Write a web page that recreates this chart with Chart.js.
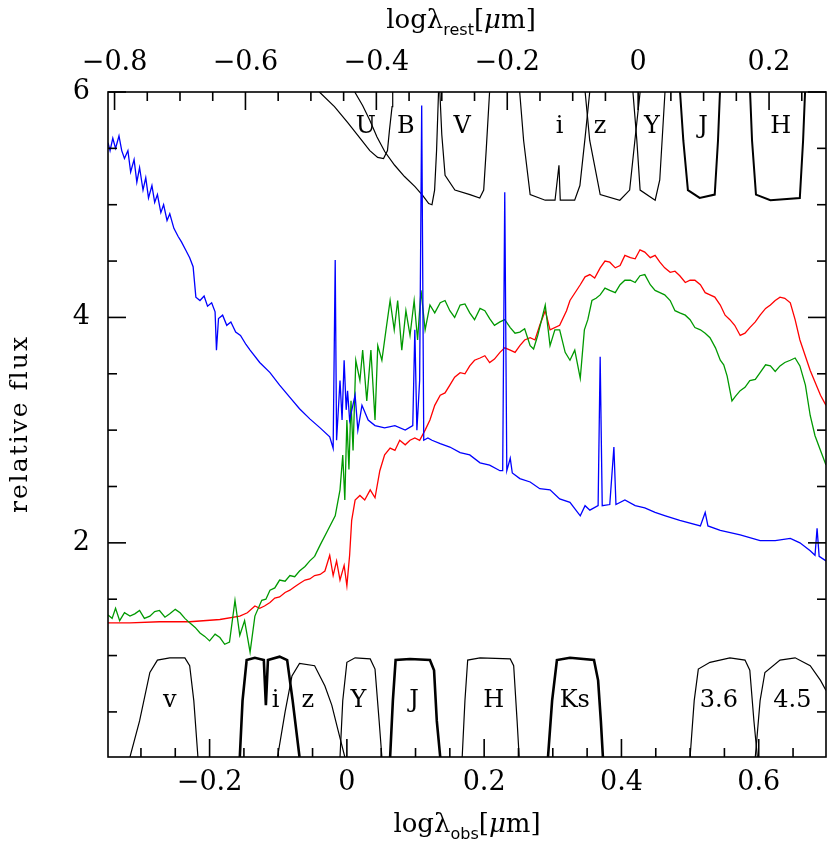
<!DOCTYPE html>
<html><head><meta charset="utf-8">
<script src="https://cdn.jsdelivr.net/npm/chart.js@4.4.1/dist/chart.umd.min.js"></script>
<style>html,body{margin:0;padding:0;background:#fff;overflow:hidden}canvas{display:block}</style>
</head><body>
<canvas id="c" width="830" height="855"></canvas>
<script>
// ---------- axis ranges / tick labels ----------
const obsRange = [-0.348, 0.698];
const restRange = [-0.810, 0.287];
const fluxRange = [0.1, 6];
const obsTickLabels = [-0.2, 0, 0.2, 0.4, 0.6];
const restTickLabels = [-0.8, -0.6, -0.4, -0.2, 0, 0.2];
const fluxTickLabels = [2, 4, 6];

// ---------- spectra (x = log lambda_obs, y = relative flux) ----------
const blueSpec = [[-0.348,5.55],[-0.345,5.48],[-0.341,5.59],[-0.337,5.50],[-0.332,5.61],[-0.328,5.48],[-0.324,5.41],[-0.319,5.48],[-0.315,5.29],[-0.310,5.40],[-0.306,5.20],[-0.302,5.33],[-0.297,5.13],[-0.293,5.24],[-0.289,5.06],[-0.284,5.17],[-0.280,5.02],[-0.276,5.09],[-0.271,4.93],[-0.267,5.00],[-0.262,4.86],[-0.258,4.92],[-0.252,4.79],[-0.246,4.72],[-0.241,4.67],[-0.235,4.60],[-0.229,4.53],[-0.224,4.45],[-0.220,4.18],[-0.214,4.15],[-0.208,4.19],[-0.203,4.10],[-0.197,4.13],[-0.192,4.05],[-0.190,3.71],[-0.187,3.99],[-0.181,4.02],[-0.175,3.93],[-0.169,3.96],[-0.162,3.87],[-0.155,3.84],[-0.147,3.76],[-0.141,3.71],[-0.127,3.60],[-0.112,3.51],[-0.098,3.40],[-0.083,3.29],[-0.069,3.19],[-0.054,3.10],[-0.039,3.02],[-0.025,2.94],[-0.020,2.84],[-0.017,4.51],[-0.015,2.91],[-0.010,3.44],[-0.007,3.09],[-0.004,3.62],[-0.001,3.18],[0.001,3.35],[0.004,3.09],[0.012,3.31],[0.016,3.00],[0.022,3.22],[0.031,3.09],[0.041,3.04],[0.055,3.02],[0.070,3.04],[0.085,3.00],[0.096,3.04],[0.099,3.89],[0.102,3.00],[0.106,3.44],[0.109,5.88],[0.112,2.91],[0.118,2.93],[0.124,2.91],[0.136,2.88],[0.150,2.85],[0.165,2.80],[0.179,2.78],[0.194,2.71],[0.208,2.69],[0.223,2.64],[0.227,2.64],[0.230,5.11],[0.233,2.64],[0.238,2.75],[0.241,2.62],[0.252,2.57],[0.267,2.54],[0.281,2.48],[0.296,2.47],[0.310,2.39],[0.325,2.36],[0.340,2.24],[0.347,2.33],[0.354,2.29],[0.366,2.33],[0.369,3.65],[0.372,2.33],[0.383,2.34],[0.389,2.85],[0.392,2.34],[0.405,2.38],[0.420,2.33],[0.434,2.31],[0.449,2.27],[0.464,2.24],[0.485,2.20],[0.515,2.15],[0.522,2.27],[0.526,2.15],[0.544,2.11],[0.573,2.07],[0.602,2.02],[0.624,2.02],[0.646,2.04],[0.660,2.00],[0.675,1.93],[0.682,1.89],[0.685,2.13],[0.688,1.88],[0.698,1.84]];

const greenSpec = [[-0.348,1.36],[-0.342,1.33],[-0.337,1.42],[-0.331,1.31],[-0.324,1.38],[-0.316,1.35],[-0.309,1.37],[-0.302,1.40],[-0.295,1.33],[-0.287,1.35],[-0.280,1.39],[-0.273,1.40],[-0.265,1.34],[-0.258,1.37],[-0.250,1.41],[-0.243,1.38],[-0.236,1.33],[-0.229,1.29],[-0.221,1.25],[-0.214,1.20],[-0.207,1.17],[-0.200,1.13],[-0.192,1.19],[-0.185,1.16],[-0.178,1.10],[-0.171,1.12],[-0.163,1.49],[-0.156,1.18],[-0.149,1.31],[-0.141,1.03],[-0.134,1.35],[-0.124,1.49],[-0.118,1.50],[-0.112,1.58],[-0.105,1.60],[-0.098,1.67],[-0.090,1.66],[-0.083,1.71],[-0.076,1.70],[-0.069,1.75],[-0.061,1.79],[-0.054,1.84],[-0.047,1.88],[-0.039,1.98],[-0.028,2.11],[-0.017,2.24],[-0.010,2.47],[-0.006,2.78],[-0.003,2.38],[0.000,3.09],[0.003,2.65],[0.006,3.26],[0.009,2.82],[0.013,3.62],[0.019,3.44],[0.023,3.71],[0.029,3.26],[0.035,3.71],[0.041,3.09],[0.045,3.75],[0.051,3.62],[0.057,3.89],[0.063,4.15],[0.069,3.89],[0.074,4.15],[0.080,3.71],[0.086,4.06],[0.092,3.84],[0.098,4.15],[0.103,3.80],[0.108,4.24],[0.114,3.89],[0.121,4.11],[0.128,4.04],[0.136,4.13],[0.143,4.15],[0.150,4.06],[0.157,4.00],[0.165,4.11],[0.172,4.12],[0.179,4.04],[0.186,3.98],[0.194,4.08],[0.201,4.06],[0.208,3.99],[0.215,3.93],[0.223,3.96],[0.230,3.98],[0.238,3.91],[0.245,3.86],[0.252,3.87],[0.259,3.90],[0.267,3.75],[0.272,3.72],[0.278,3.84],[0.289,4.11],[0.296,3.75],[0.303,3.89],[0.310,3.89],[0.318,3.69],[0.325,3.62],[0.332,3.71],[0.340,3.46],[0.346,3.89],[0.351,3.98],[0.357,4.15],[0.363,4.17],[0.369,4.20],[0.376,4.26],[0.383,4.24],[0.391,4.22],[0.398,4.29],[0.405,4.33],[0.413,4.33],[0.420,4.31],[0.427,4.37],[0.434,4.38],[0.442,4.29],[0.449,4.24],[0.456,4.22],[0.463,4.20],[0.471,4.15],[0.478,4.06],[0.485,4.04],[0.493,4.02],[0.500,3.98],[0.507,3.91],[0.515,3.89],[0.522,3.86],[0.529,3.82],[0.537,3.73],[0.544,3.62],[0.549,3.58],[0.554,3.48],[0.561,3.26],[0.566,3.30],[0.573,3.35],[0.580,3.38],[0.587,3.44],[0.595,3.45],[0.602,3.51],[0.610,3.58],[0.617,3.57],[0.624,3.52],[0.631,3.57],[0.638,3.60],[0.646,3.62],[0.653,3.64],[0.660,3.57],[0.668,3.40],[0.675,3.13],[0.682,2.95],[0.690,2.82],[0.698,2.69]];

const redSpec = [[-0.348,1.29],[-0.316,1.29],[-0.273,1.30],[-0.229,1.30],[-0.185,1.32],[-0.156,1.35],[-0.145,1.38],[-0.134,1.44],[-0.127,1.42],[-0.120,1.44],[-0.112,1.47],[-0.105,1.51],[-0.098,1.52],[-0.090,1.56],[-0.083,1.58],[-0.076,1.61],[-0.069,1.64],[-0.061,1.67],[-0.054,1.68],[-0.047,1.71],[-0.039,1.72],[-0.032,1.75],[-0.025,1.89],[-0.020,1.71],[-0.015,1.84],[-0.010,1.67],[-0.004,1.80],[0.000,1.62],[0.004,1.89],[0.007,2.20],[0.012,2.38],[0.019,2.42],[0.026,2.38],[0.034,2.47],[0.041,2.40],[0.048,2.64],[0.055,2.78],[0.063,2.84],[0.070,2.82],[0.077,2.91],[0.085,2.87],[0.092,2.91],[0.099,2.93],[0.106,2.91],[0.114,3.00],[0.121,3.09],[0.128,3.22],[0.136,3.31],[0.143,3.33],[0.150,3.40],[0.157,3.47],[0.165,3.51],[0.172,3.50],[0.179,3.57],[0.186,3.62],[0.194,3.64],[0.201,3.66],[0.208,3.60],[0.215,3.63],[0.223,3.69],[0.230,3.73],[0.238,3.71],[0.245,3.69],[0.252,3.75],[0.259,3.80],[0.267,3.82],[0.274,3.80],[0.281,3.93],[0.289,4.06],[0.296,3.89],[0.310,3.93],[0.320,4.06],[0.325,4.15],[0.340,4.29],[0.347,4.36],[0.354,4.38],[0.361,4.35],[0.369,4.44],[0.376,4.50],[0.383,4.49],[0.391,4.44],[0.398,4.46],[0.405,4.55],[0.413,4.53],[0.420,4.52],[0.427,4.60],[0.434,4.58],[0.442,4.53],[0.449,4.55],[0.456,4.49],[0.463,4.44],[0.471,4.40],[0.478,4.41],[0.485,4.37],[0.493,4.31],[0.500,4.33],[0.507,4.33],[0.515,4.29],[0.522,4.22],[0.529,4.20],[0.536,4.18],[0.544,4.11],[0.551,4.02],[0.558,3.98],[0.565,3.93],[0.573,3.84],[0.580,3.86],[0.587,3.91],[0.595,3.96],[0.602,4.02],[0.610,4.08],[0.617,4.11],[0.624,4.15],[0.631,4.18],[0.638,4.17],[0.646,4.13],[0.653,3.98],[0.660,3.80],[0.675,3.53],[0.690,3.31],[0.698,3.22]];

// ---------- observed-frame filter curves (bottom) ----------
const filtV = [[-0.316,0.10],[-0.302,0.42],[-0.287,0.85],[-0.276,0.96],[-0.258,0.98],[-0.236,0.98],[-0.229,0.91],[-0.223,0.60],[-0.217,0.10]];
const filtIobs = [[-0.156,0.10],[-0.152,0.60],[-0.146,0.96],[-0.134,0.98],[-0.121,0.96],[-0.118,0.56],[-0.115,0.96],[-0.098,0.99],[-0.087,0.96],[-0.079,0.60],[-0.069,0.10]];
const filtZobs = [[-0.101,0.10],[-0.090,0.50],[-0.080,0.82],[-0.069,0.93],[-0.047,0.91],[-0.032,0.73],[-0.022,0.56],[-0.013,0.34],[-0.003,0.10]];
const filtYobs = [[-0.010,0.10],[-0.006,0.60],[0.000,0.94],[0.012,0.98],[0.034,0.97],[0.041,0.88],[0.047,0.42],[0.051,0.10]];
const filtJobs = [[0.063,0.10],[0.067,0.60],[0.071,0.96],[0.092,0.97],[0.121,0.96],[0.127,0.87],[0.131,0.42],[0.136,0.10]];
const filtHobs = [[0.168,0.10],[0.172,0.60],[0.176,0.96],[0.194,0.98],[0.238,0.97],[0.243,0.91],[0.248,0.42],[0.251,0.10]];
const filtKs = [[0.293,0.10],[0.299,0.60],[0.306,0.96],[0.325,0.98],[0.360,0.96],[0.366,0.78],[0.370,0.42],[0.373,0.10]];
const filt36 = [[0.500,0.10],[0.506,0.60],[0.512,0.88],[0.529,0.94],[0.558,0.98],[0.580,0.96],[0.587,0.87],[0.593,0.42],[0.598,0.10]];
const filt45 = [[0.595,0.10],[0.602,0.60],[0.609,0.85],[0.631,0.96],[0.653,0.98],[0.675,0.91],[0.690,0.78],[0.698,0.69]];

// ---------- rest-frame filter curves (top, x = log lambda_rest) ----------
const filtU = [[-0.487,6.00],[-0.464,5.87],[-0.444,5.73],[-0.425,5.59],[-0.410,5.48],[-0.398,5.42],[-0.389,5.41],[-0.383,5.48],[-0.380,5.66],[-0.376,5.87],[-0.375,6.00]];
const filtB = [[-0.433,6.00],[-0.421,5.88],[-0.410,5.75],[-0.399,5.60],[-0.387,5.47],[-0.372,5.35],[-0.357,5.25],[-0.341,5.16],[-0.329,5.08],[-0.320,5.01],[-0.315,5.00],[-0.311,5.13],[-0.308,5.48],[-0.305,6.00]];
const filtVrest = [[-0.303,6.00],[-0.300,5.62],[-0.295,5.26],[-0.280,5.13],[-0.257,5.09],[-0.242,5.06],[-0.236,5.13],[-0.232,5.50],[-0.227,6.00]];
const filtIrest = [[-0.181,6.00],[-0.175,5.57],[-0.165,5.09],[-0.142,5.04],[-0.127,5.04],[-0.121,5.35],[-0.119,5.04],[-0.097,5.04],[-0.089,5.17],[-0.081,5.60],[-0.074,6.00]];
const filtZrest = [[-0.081,6.00],[-0.074,5.57],[-0.058,5.09],[-0.028,5.04],[-0.013,5.13],[-0.005,5.57],[0.003,6.00]];
const filtYrest = [[-0.008,6.00],[-0.002,5.57],[0.003,5.13],[0.026,5.04],[0.033,5.22],[0.041,6.00]];
const filtJrest = [[0.064,6.00],[0.069,5.57],[0.076,5.13],[0.094,5.06],[0.117,5.09],[0.122,5.57],[0.125,6.00]];
const filtHrest = [[0.171,6.00],[0.174,5.57],[0.180,5.09],[0.202,5.04],[0.247,5.06],[0.252,5.57],[0.255,6.00]];

// ---------- in-plot filter names ----------
const restNames = ['U','B','V','i','z','Y','J','H'];
const restNameX = [-0.416,-0.355,-0.269,-0.120,-0.058,0.021,0.099,0.218];
const restNameY = 5.69;
const obsNames = ['v','i','z','Y','J','H','Ks','3.6','4.5'];
const obsNameX = [-0.258,-0.104,-0.057,0.017,0.098,0.214,0.332,0.542,0.649];
const obsNameY = 0.60;

// ---------- rendering ----------
const SERIF = "'DejaVu Serif', serif";
const SANS = "'DejaVu Sans', sans-serif";
const pts = a => a.map(([x, y]) => ({x, y}));
const fmt = v => v === 0 ? '0' : (v < 0 ? '\u2212' : '') + Math.abs(v).toFixed(1);

function lineDS(arr, color, width, order, axis) {
  return { data: pts(arr), borderColor: color, borderWidth: width, pointRadius: 0,
           fill: false, tension: 0, order: order, xAxisID: axis || 'x', yAxisID: 'y' };
}

const datasets = [
  lineDS(blueSpec, '#0000ff', 1.3, 1),
  lineDS(greenSpec, '#009900', 1.3, 2),
  lineDS(redSpec, '#ff0000', 1.3, 3),
  lineDS(filtV, '#000', 1.2, 10), lineDS(filtIobs, '#000', 2.6, 10), lineDS(filtZobs, '#000', 1.2, 10),
  lineDS(filtYobs, '#000', 1.2, 10), lineDS(filtJobs, '#000', 2.6, 10), lineDS(filtHobs, '#000', 1.2, 10),
  lineDS(filtKs, '#000', 2.6, 10), lineDS(filt36, '#000', 1.2, 10), lineDS(filt45, '#000', 1.2, 10),
  lineDS(filtU, '#000', 1.2, 10, 'x2'), lineDS(filtB, '#000', 1.2, 10, 'x2'), lineDS(filtVrest, '#000', 1.2, 10, 'x2'),
  lineDS(filtIrest, '#000', 1.2, 10, 'x2'), lineDS(filtZrest, '#000', 1.2, 10, 'x2'), lineDS(filtYrest, '#000', 1.2, 10, 'x2'),
  lineDS(filtJrest, '#000', 2.0, 10, 'x2'), lineDS(filtHrest, '#000', 2.0, 10, 'x2')
];

const tickFont = { family: SERIF, size: 27 };
function axisCommon(vals, pad) {
  return {
    type: 'linear', grid: { display: false, drawTicks: false }, border: { display: false },
    ticks: { font: tickFont, color: '#000', padding: pad, autoSkip: false, maxRotation: 0, callback: v => fmt(v) },
    afterBuildTicks: s => { s.ticks = vals.map(v => ({ value: v })); }
  };
}

const framePlugin = {
  id: 'frame',
  afterDatasetsDraw(chart) {
    const { ctx, chartArea: a, scales } = chart;
    ctx.save();
    ctx.strokeStyle = '#000';
    ctx.lineWidth = 1.6;
    ctx.lineCap = 'butt';
    const seg = (x1, y1, x2, y2) => { ctx.beginPath(); ctx.moveTo(x1, y1); ctx.lineTo(x2, y2); ctx.stroke(); };
    const near = (v, step) => Math.abs(v / step - Math.round(v / step)) < 1e-6;
    for (let k = Math.ceil(obsRange[0] / 0.05); k * 0.05 <= obsRange[1] + 1e-9; k++) {
      const v = k * 0.05, p = scales.x.getPixelForValue(v), L = near(v, 0.2) ? 18 : 9;
      seg(p, a.bottom, p, a.bottom - L);
    }
    for (let k = Math.ceil(restRange[0] / 0.05); k * 0.05 <= restRange[1] + 1e-9; k++) {
      const v = k * 0.05, p = scales.x2.getPixelForValue(v), L = near(v, 0.2) ? 18 : 9;
      seg(p, a.top, p, a.top + L);
    }
    for (let k = 1; k * 0.5 <= fluxRange[1] + 1e-9; k++) {
      const v = k * 0.5; if (v < fluxRange[0]) continue;
      const p = scales.y.getPixelForValue(v), L = near(v, 2) ? 18 : 9;
      seg(a.left, p, a.left + L, p);
      seg(a.right, p, a.right - L, p);
    }
    ctx.strokeRect(a.left, a.top, a.right - a.left, a.bottom - a.top);
    ctx.restore();
  }
};

function drawTitle(ctx, cx, baseY, sub) {
  const parts = [
    { t: 'log\u03bb', f: '26px ' + SERIF, dy: 0 },
    { t: sub, f: '16px ' + SANS, dy: 7 },
    { t: '[', f: '26px ' + SERIF, dy: 0 },
    { t: '\u03bc', f: 'italic 26px ' + SERIF, dy: 0 },
    { t: 'm]', f: '26px ' + SERIF, dy: 0 }
  ];
  let w = 0;
  for (const p of parts) { ctx.font = p.f; p.w = ctx.measureText(p.t).width; w += p.w; }
  let x = cx - w / 2;
  ctx.textAlign = 'left'; ctx.textBaseline = 'alphabetic';
  for (const p of parts) { ctx.font = p.f; ctx.fillText(p.t, x, baseY + p.dy); x += p.w; }
}

const textPlugin = {
  id: 'texts',
  afterDraw(chart) {
    const { ctx, scales } = chart;
    ctx.save();
    ctx.fillStyle = '#000';
    ctx.font = '24px ' + SERIF;
    ctx.textAlign = 'center'; ctx.textBaseline = 'middle';
    restNames.forEach((n, i) => ctx.fillText(n, scales.x2.getPixelForValue(restNameX[i]), scales.y.getPixelForValue(restNameY)));
    obsNames.forEach((n, i) => ctx.fillText(n, scales.x.getPixelForValue(obsNameX[i]), scales.y.getPixelForValue(obsNameY)));
    drawTitle(ctx, 461, 28, 'rest');
    drawTitle(ctx, 467, 832, 'obs');
    ctx.save();
    ctx.translate(27, 424);
    ctx.rotate(-Math.PI / 2);
    ctx.font = '25px ' + SERIF;
    try { ctx.letterSpacing = '2px'; } catch (e) {}
    ctx.textAlign = 'center'; ctx.textBaseline = 'alphabetic';
    ctx.fillText('relative flux', 0, 0);
    ctx.restore();
    ctx.restore();
  }
};

new Chart(document.getElementById('c').getContext('2d'), {
  type: 'line',
  data: { datasets },
  options: {
    responsive: false, animation: false, devicePixelRatio: 1,
    layout: { padding: { left: 0, right: 4, top: 0, bottom: 0 } },
    plugins: { legend: { display: false }, tooltip: { enabled: false }, title: { display: false } },
    scales: {
      x: Object.assign(axisCommon(obsTickLabels, 10), { position: 'bottom', min: obsRange[0], max: obsRange[1], afterFit: s => { s.height = 98; } }),
      x2: Object.assign(axisCommon(restTickLabels, 13), { position: 'top', min: restRange[0], max: restRange[1], afterFit: s => { s.height = 92; } }),
      y: Object.assign(axisCommon(fluxTickLabels, 18), { position: 'left', min: fluxRange[0], max: fluxRange[1], ticks: { font: tickFont, color: '#000', padding: 18, autoSkip: false, callback: v => String(v) }, afterFit: s => { s.width = 108; } })
    }
  },
  plugins: [framePlugin, textPlugin]
});
</script>
</body></html>
